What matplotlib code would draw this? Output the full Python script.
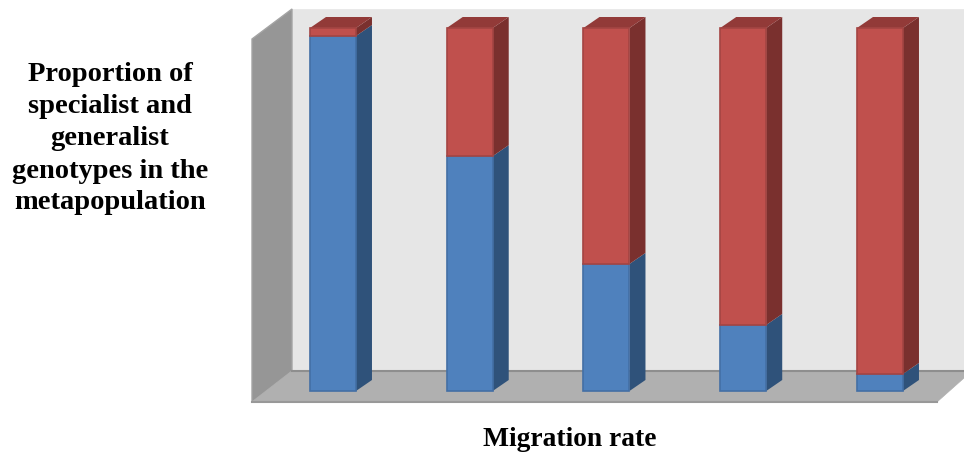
import matplotlib
matplotlib.use("Agg")
import matplotlib.pyplot as plt
from matplotlib.patches import Polygon

W, H = 964, 453
categories = ["1", "2", "3", "4", "5"]
specialist = [0.978, 0.647, 0.350, 0.182, 0.047]
generalist = [0.022, 0.353, 0.650, 0.818, 0.953]
ylabel_lines = ["Proportion of", "specialist and", "generalist", "genotypes in the", "metapopulation"]
xlabel = "Migration rate"

plt.rcParams["font.family"] = ["Liberation Serif", "DejaVu Serif"]
fig = plt.figure(figsize=(W / 100, H / 100), dpi=100, facecolor="white")

def P(x, y):
    return (x / W, 1 - y / H)

def poly(pts, fc, ec, lw=1.2, z=1):
    fig.add_artist(Polygon([P(*p) for p in pts], closed=True, facecolor=fc, edgecolor=ec,
                           linewidth=lw, transform=fig.transFigure, zorder=z))

# 3D box: back wall, left wall, floor
poly([(292, 9), (964, 9), (964, 371), (292, 371)], "#e6e6e6", "#e6e6e6", 0.5)
poly([(252, 39), (292, 9), (292, 371), (252, 402)], "#969696", "#a4a4a4", 1.0)
poly([(252, 402), (292, 371), (964, 371), (964, 378), (937, 402)], "#b0b0b0", "#b0b0b0", 0.5)
fig.add_artist(plt.Line2D([292 / W, 1], [1 - 371 / H] * 2, color="#8e8e8e", lw=1.5, transform=fig.transFigure, zorder=1))
fig.add_artist(plt.Line2D([252 / W, 937 / W], [1 - 401.5 / H] * 2, color="#989898", lw=1.5, transform=fig.transFigure, zorder=1))

ax = fig.add_axes([264.6 / W, 1 - 391 / H, 683.75 / W, 363 / H], zorder=5)
ax.set_xlim(-0.5, 4.5)
ax.set_ylim(0, 1)
ax.axis("off")

BW = 46 / 136.75
DX = 16 / 136.75
DY = 11 / 363
xs = list(range(len(categories)))

styles = [
    dict(front="#4f81bd", edge="#436fa5", side="#2f527a"),
    dict(front="#c0504d", edge="#a44543", side="#7a302e"),
]
top_col = "#923a38"

for i in xs:
    r = i + BW / 2
    l = i - BW / 2
    base = 0
    for vals, st in zip((specialist, generalist), styles):
        v = vals[i]
        ax.add_patch(Polygon([(r, base), (r + DX, base + DY), (r + DX, base + v + DY), (r, base + v)],
                             closed=True, facecolor=st["side"], edgecolor="none", clip_on=False, zorder=2))
        base += v
    ax.add_patch(Polygon([(l, base), (l + DX, base + DY), (r + DX, base + DY), (r, base)],
                         closed=True, facecolor=top_col, edgecolor="none", clip_on=False, zorder=2))

for vals, bottom, st in ((specialist, [0] * 5, styles[0]), (generalist, specialist, styles[1])):
    ax.bar(xs, vals, width=BW, bottom=bottom, color=st["front"], edgecolor=st["edge"],
           linewidth=1.2, clip_on=False, zorder=3)

for y, t in zip([81, 113, 145, 178, 209], ylabel_lines):
    fig.text(110 / W, 1 - y / H, t, ha="center", va="baseline", fontsize=20.5, fontweight="bold", color="black")
fig.text(570 / W, 1 - 446 / H, xlabel, ha="center", va="baseline", fontsize=19.8, fontweight="bold", color="black")

fig.savefig("out.png", dpi=100)
